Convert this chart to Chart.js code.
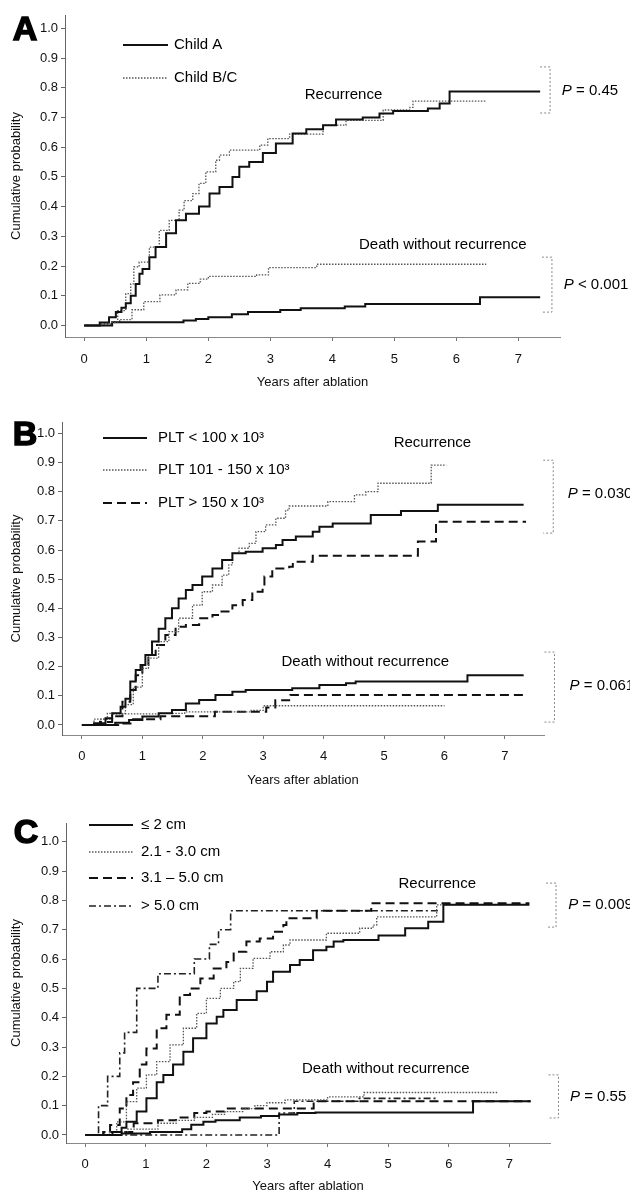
<!DOCTYPE html>
<html>
<head>
<meta charset="utf-8">
<script src="https://cdn.jsdelivr.net/npm/chart.js@4.4.1/dist/chart.umd.min.js"></script>
<style>
  body { margin: 0; background: #fff; }
  .panel { position: absolute; left: 0; }
</style>
</head>
<body>
<canvas id="chartA" class="panel" width="630" height="395" style="top:0"></canvas>
<canvas id="chartB" class="panel" width="630" height="395" style="top:395px"></canvas>
<canvas id="chartC" class="panel" width="630" height="404" style="top:790px"></canvas>
<script>
const FONT = '"Liberation Sans", Arial, sans-serif';

const xTickLabels = ['0', '1', '2', '3', '4', '5', '6', '7'];
const yTickLabels = ['0.0', '0.1', '0.2', '0.3', '0.4', '0.5', '0.6', '0.7', '0.8', '0.9', '1.0'];

// Panel A - Child-Pugh class
const childLabels = ['Child A', 'Child B/C'];
const aRecA_t = [0, 0.25, 0.4, 0.51, 0.6, 0.67, 0.75, 0.83, 0.89, 0.94, 1.05, 1.15, 1.32, 1.48, 1.64, 1.85, 2.02, 2.18, 2.39, 2.5, 2.66, 2.88, 3.09, 3.36, 3.58, 3.85, 4.06, 4.49, 4.76, 4.98, 5.54, 5.73, 5.89, 7.35];
const aRecA_v = [0, 0.01, 0.028, 0.045, 0.06, 0.075, 0.1, 0.14, 0.174, 0.19, 0.23, 0.264, 0.31, 0.354, 0.376, 0.4, 0.444, 0.466, 0.5, 0.534, 0.55, 0.58, 0.612, 0.646, 0.66, 0.674, 0.693, 0.7, 0.713, 0.722, 0.73, 0.747, 0.787, 0.787];
const aRecBC_t = [0, 0.25, 0.4, 0.54, 0.67, 0.75, 0.8, 0.885, 1.05, 1.21, 1.37, 1.53, 1.61, 1.75, 1.85, 1.96, 2.12, 2.18, 2.34, 2.83, 2.96, 3.31, 3.85, 4.22, 4.82, 5.25, 5.3, 6.48];
const aRecBC_v = [0, 0.005, 0.01, 0.05, 0.107, 0.14, 0.197, 0.213, 0.264, 0.32, 0.354, 0.388, 0.42, 0.444, 0.478, 0.517, 0.556, 0.573, 0.59, 0.607, 0.629, 0.644, 0.674, 0.69, 0.725, 0.734, 0.755, 0.755];
const aDeathA_t = [0, 0.45, 1.6, 1.8, 2.0, 2.38, 2.64, 3.16, 3.49, 4.2, 4.53, 6.38, 7.35];
const aDeathA_v = [0, 0.011, 0.017, 0.022, 0.028, 0.038, 0.045, 0.052, 0.058, 0.064, 0.072, 0.095, 0.095];
const aDeathBC_t = [0, 0.3, 0.45, 0.57, 0.77, 0.96, 1.22, 1.48, 1.67, 1.87, 2.0, 2.78, 2.97, 3.75, 6.48];
const aDeathBC_v = [0, 0.005, 0.012, 0.02, 0.053, 0.08, 0.103, 0.12, 0.142, 0.156, 0.165, 0.17, 0.195, 0.206, 0.206];

// Panel B - platelet count
const pltLabels = ['PLT < 100 x 10³', 'PLT 101 - 150 x 10³', 'PLT > 150 x 10³'];
const bRecLow_t = [0, 0.2, 0.39, 0.5, 0.64, 0.72, 0.8, 0.89, 0.97, 1.05, 1.16, 1.27, 1.38, 1.49, 1.6, 1.72, 1.83, 1.99, 2.16, 2.32, 2.49, 2.71, 2.99, 3.21, 3.32, 3.54, 3.82, 3.93, 4.15, 4.78, 5.28, 5.89, 7.31];
const bRecLow_v = [0, 0.006, 0.023, 0.04, 0.063, 0.09, 0.149, 0.189, 0.206, 0.24, 0.286, 0.33, 0.366, 0.4, 0.434, 0.463, 0.48, 0.509, 0.537, 0.566, 0.589, 0.594, 0.606, 0.617, 0.634, 0.646, 0.663, 0.68, 0.691, 0.72, 0.734, 0.755, 0.755];
const bRecMid_t = [0, 0.2, 0.42, 0.72, 0.85, 1.0, 1.1, 1.27, 1.44, 1.6, 1.83, 1.99, 2.16, 2.32, 2.43, 2.49, 2.6, 2.77, 2.88, 3.04, 3.21, 3.37, 3.43, 4.07, 4.51, 4.7, 4.9, 5.78, 6.03];
const bRecMid_v = [0, 0.02, 0.04, 0.07, 0.13, 0.194, 0.229, 0.286, 0.32, 0.366, 0.411, 0.457, 0.48, 0.514, 0.549, 0.589, 0.606, 0.623, 0.663, 0.686, 0.709, 0.737, 0.751, 0.766, 0.789, 0.8, 0.829, 0.891, 0.891];
const bRecHigh_t = [0, 0.3, 0.5, 0.67, 0.8, 0.89, 1.0, 1.1, 1.22, 1.38, 1.55, 1.72, 1.94, 2.16, 2.27, 2.49, 2.66, 2.82, 2.99, 3.02, 3.15, 3.43, 3.49, 3.82, 5.56, 5.86, 7.35];
const bRecHigh_v = [0, 0.01, 0.03, 0.08, 0.12, 0.171, 0.206, 0.24, 0.274, 0.309, 0.337, 0.343, 0.366, 0.377, 0.389, 0.411, 0.429, 0.457, 0.469, 0.509, 0.537, 0.543, 0.56, 0.58, 0.629, 0.697, 0.697];
const bDeathLow_t = [0, 0.55, 0.78, 1.0, 1.27, 1.49, 1.72, 1.94, 2.21, 2.49, 2.71, 3.48, 3.93, 4.37, 4.53, 6.38, 7.31];
const bDeathLow_v = [0, 0.008, 0.017, 0.029, 0.04, 0.051, 0.074, 0.086, 0.103, 0.114, 0.12, 0.126, 0.137, 0.143, 0.149, 0.171, 0.171];
const bDeathMid_t = [0, 0.3, 0.5, 1.3, 1.7, 2.8, 3.0, 6.0];
const bDeathMid_v = [0, 0.02, 0.038, 0.04, 0.045, 0.05, 0.066, 0.066];
const bDeathHigh_t = [0, 0.6, 0.82, 1.3, 2.2, 3.05, 3.2, 3.45, 7.35];
const bDeathHigh_v = [0, 0.005, 0.02, 0.03, 0.045, 0.06, 0.085, 0.103, 0.103];

// Panel C - tumour size
const sizeLabels = ['≤ 2 cm', '2.1 - 3.0 cm', '3.1 – 5.0 cm', '> 5.0 cm'];
const cRecS1_t = [0, 0.45, 0.6, 0.68, 0.85, 1.01, 1.18, 1.29, 1.45, 1.62, 1.78, 2.0, 2.17, 2.28, 2.5, 2.83, 3.0, 3.1, 3.38, 3.54, 3.76, 3.98, 4.1, 4.26, 4.84, 5.28, 5.66, 5.91, 7.33];
const cRecS1_v = [0, 0.01, 0.025, 0.045, 0.08, 0.125, 0.18, 0.205, 0.24, 0.284, 0.33, 0.38, 0.403, 0.426, 0.46, 0.49, 0.523, 0.557, 0.58, 0.597, 0.63, 0.642, 0.66, 0.665, 0.68, 0.705, 0.727, 0.785, 0.785];
const cRecS2_t = [0, 0.4, 0.52, 0.68, 0.85, 1.01, 1.18, 1.4, 1.62, 1.84, 2.0, 2.23, 2.45, 2.56, 2.77, 3.05, 3.27, 3.38, 3.98, 4.53, 4.75, 4.81, 5.8, 6.9];
const cRecS2_v = [0, 0.01, 0.045, 0.114, 0.16, 0.205, 0.25, 0.307, 0.364, 0.415, 0.466, 0.5, 0.523, 0.568, 0.602, 0.625, 0.648, 0.665, 0.688, 0.705, 0.716, 0.744, 0.785, 0.785];
const cRecS3_t = [0, 0.3, 0.41, 0.57, 0.68, 0.79, 0.9, 1.01, 1.18, 1.34, 1.56, 1.73, 1.9, 2.12, 2.33, 2.45, 2.66, 2.88, 3.1, 3.27, 3.32, 3.82, 4.72, 7.33];
const cRecS3_v = [0, 0.01, 0.034, 0.09, 0.136, 0.18, 0.24, 0.295, 0.364, 0.41, 0.477, 0.5, 0.534, 0.568, 0.59, 0.625, 0.66, 0.67, 0.693, 0.716, 0.739, 0.765, 0.79, 0.79];
const cRecS4_t = [0, 0.22, 0.37, 0.57, 0.65, 0.85, 1.2, 1.8, 2.05, 2.2, 2.4, 5.85];
const cRecS4_v = [0, 0.1, 0.2, 0.28, 0.35, 0.5, 0.55, 0.6, 0.65, 0.7, 0.765, 0.765];
const cDeathS1_t = [0, 0.6, 1.07, 1.6, 1.75, 1.95, 2.15, 2.55, 2.9, 3.2, 3.5, 3.8, 6.4, 7.35];
const cDeathS1_v = [0, 0.005, 0.01, 0.02, 0.035, 0.045, 0.05, 0.06, 0.065, 0.07, 0.075, 0.077, 0.115, 0.115];
const cDeathS2_t = [0, 0.4, 0.7, 1.2, 1.5, 1.8, 2.1, 2.3, 2.6, 2.8, 3.0, 3.3, 4.0, 4.6, 6.8];
const cDeathS2_v = [0, 0.01, 0.02, 0.04, 0.05, 0.06, 0.07, 0.08, 0.09, 0.1, 0.11, 0.12, 0.13, 0.145, 0.145];
const cDeathS3_t = [0, 0.3, 0.8, 1.2, 1.5, 1.8, 2.0, 2.3, 3.77, 7.35];
const cDeathS3_v = [0, 0.01, 0.04, 0.05, 0.06, 0.075, 0.08, 0.09, 0.115, 0.115];
const cDeathS4_t = [0, 3.2, 3.45, 4.5, 5.8];
const cDeathS4_v = [0, 0.075, 0.115, 0.125, 0.125];

const lineStyles = {
    solid:   { borderColor: '#111', borderWidth: 2,   borderDash: [] },
    dotted:  { borderColor: '#555', borderWidth: 1.3, borderDash: [1.5, 1.5] },
    dashed:  { borderColor: '#111', borderWidth: 2,   borderDash: [9, 5] },
    dashdot: { borderColor: '#222', borderWidth: 1.6, borderDash: [7, 3, 2, 3] }
};

function curve(label, t, v, style) {
    return {
        label: label,
        data: t.map((x, i) => ({ x: x, y: v[i] })),
        stepped: true,
        pointRadius: 0,
        fill: false,
        ...lineStyles[style]
    };
}

// letter, legend, curve notes, p-values and brackets
const panelDecor = {
    id: 'panelDecor',
    afterDraw(chart, args, o) {
        const ctx = chart.ctx;
        const xs = chart.scales.x, ys = chart.scales.y;
        ctx.save();
        ctx.fillStyle = '#000';
        ctx.strokeStyle = '#000';

        // big panel letter, baseline at its bottom edge
        ctx.font = 'bold 34px ' + FONT;
        ctx.textAlign = 'center';
        ctx.textBaseline = 'alphabetic';
        ctx.lineWidth = 1.5;
        ctx.fillText(o.letter, o.letterPos[0], o.letterPos[1]);
        ctx.strokeText(o.letter, o.letterPos[0], o.letterPos[1]);

        ctx.textBaseline = 'middle';
        o.legend.forEach((item, i) => {
            const y = o.legendPos.ys[i];
            const st = lineStyles[item.style];
            ctx.beginPath();
            ctx.setLineDash(st.borderDash);
            ctx.lineWidth = st.borderWidth;
            ctx.strokeStyle = st.borderColor;
            ctx.moveTo(o.legendPos.x1, y);
            ctx.lineTo(o.legendPos.x2, y);
            ctx.stroke();
            ctx.setLineDash([]);
            ctx.font = '15px ' + FONT;
            ctx.textAlign = 'left';
            ctx.fillStyle = '#000';
            ctx.fillText(item.label, o.legendPos.tx, y);
        });

        ctx.font = '15px ' + FONT;
        ctx.textAlign = 'center';
        o.notes.forEach(n => {
            ctx.fillText(n.text, xs.getPixelForValue(n.x), ys.getPixelForValue(n.y));
        });

        ctx.textAlign = 'left';
        o.pvals.forEach(p => {
            const px = xs.getPixelForValue(p.x), py = ys.getPixelForValue(p.y);
            ctx.font = 'italic 15px ' + FONT;
            ctx.fillText('P', px, py);
            const w = ctx.measureText('P').width;
            ctx.font = '15px ' + FONT;
            ctx.fillText(p.text, px + w, py);
        });

        ctx.strokeStyle = '#888';
        ctx.lineWidth = 1;
        ctx.setLineDash([2, 2]);
        o.brackets.forEach(b => {
            const bx = xs.getPixelForValue(b.x);
            const y1 = ys.getPixelForValue(b.y1), y2 = ys.getPixelForValue(b.y2);
            ctx.beginPath();
            ctx.moveTo(bx - 10, y1);
            ctx.lineTo(bx, y1);
            ctx.lineTo(bx, y2);
            ctx.lineTo(bx - 10, y2);
            ctx.stroke();
        });
        ctx.restore();
    }
};

function makePanel(id, cfg) {
    const el = document.getElementById(id);
    const font13 = { family: FONT, size: 13 };
    return new Chart(el, {
        type: 'line',
        data: { datasets: cfg.datasets },
        plugins: [panelDecor],
        options: {
            responsive: false,
            animation: false,
            events: [],
            layout: { padding: { top: cfg.top, right: el.width - cfg.right, left: 0, bottom: 0 } },
            plugins: {
                legend: { display: false },
                tooltip: { enabled: false },
                panelDecor: cfg.decor
            },
            scales: {
                x: {
                    type: 'linear',
                    min: cfg.xMin,
                    max: cfg.xMax,
                    afterBuildTicks: s => { s.ticks = xTickLabels.map(l => ({ value: Number(l) })); },
                    afterFit: s => { s.height = el.height - cfg.bottom; },
                    ticks: { callback: v => String(v), font: font13, color: '#111', padding: cfg.xTickPad, maxRotation: 0, autoSkip: false },
                    grid: { drawOnChartArea: false, drawTicks: true, tickLength: 4, color: '#777' },
                    border: { display: true, color: '#888', dash: [2, 3], width: 1 },
                    title: { display: true, text: 'Years after ablation', font: font13, color: '#111', padding: { top: 0, bottom: cfg.xTitlePad } }
                },
                y: {
                    min: cfg.yMin,
                    max: cfg.yMax,
                    afterBuildTicks: s => { s.ticks = yTickLabels.map(l => ({ value: Number(l) })); },
                    afterFit: s => { s.width = cfg.left; },
                    ticks: { callback: v => v.toFixed(1), font: font13, color: '#111', padding: 3 },
                    grid: { drawOnChartArea: false, drawTicks: true, tickLength: 4, color: '#666' },
                    border: { display: true, color: '#666', dash: [1, 1], width: 1 },
                    title: { display: true, text: 'Cumulative probability', font: font13, color: '#111', padding: { top: 9, bottom: 0 } }
                }
            }
        }
    });
}

makePanel('chartA', {
    top: 15, bottom: 337, left: 65, right: 560,
    xMin: -0.31, xMax: 7.67, yMin: -0.0387, yMax: 1.0447,
    xTickPad: 11, xTitlePad: 5,
    datasets: [
        curve(childLabels[0] + ' recurrence', aRecA_t, aRecA_v, 'solid'),
        curve(childLabels[1] + ' recurrence', aRecBC_t, aRecBC_v, 'dotted'),
        curve(childLabels[0] + ' death', aDeathA_t, aDeathA_v, 'solid'),
        curve(childLabels[1] + ' death', aDeathBC_t, aDeathBC_v, 'dotted')
    ],
    decor: {
        letter: 'A', letterPos: [25, 40],
        legend: [{ label: childLabels[0], style: 'solid' }, { label: childLabels[1], style: 'dotted' }],
        legendPos: { x1: 123, x2: 168, tx: 174, ys: [45, 78] },
        notes: [{ text: 'Recurrence', x: 4.18, y: 0.776 }, { text: 'Death without recurrence', x: 5.78, y: 0.271 }],
        pvals: [{ text: ' = 0.45', x: 7.70, y: 0.789 }, { text: ' < 0.001', x: 7.73, y: 0.136 }],
        brackets: [{ x: 7.51, y1: 0.87, y2: 0.715 }, { x: 7.54, y1: 0.23, y2: 0.045 }]
    }
});

makePanel('chartB', {
    top: 27, bottom: 340, left: 62, right: 544,
    xMin: -0.33, xMax: 7.647, yMin: -0.0343, yMax: 1.039,
    xTickPad: 10, xTitlePad: 2,
    datasets: [
        curve(pltLabels[0] + ' recurrence', bRecLow_t, bRecLow_v, 'solid'),
        curve(pltLabels[1] + ' recurrence', bRecMid_t, bRecMid_v, 'dotted'),
        curve(pltLabels[2] + ' recurrence', bRecHigh_t, bRecHigh_v, 'dashed'),
        curve(pltLabels[0] + ' death', bDeathLow_t, bDeathLow_v, 'solid'),
        curve(pltLabels[1] + ' death', bDeathMid_t, bDeathMid_v, 'dotted'),
        curve(pltLabels[2] + ' death', bDeathHigh_t, bDeathHigh_v, 'dashed')
    ],
    decor: {
        letter: 'B', letterPos: [25, 50],
        legend: [{ label: pltLabels[0], style: 'solid' }, { label: pltLabels[1], style: 'dotted' }, { label: pltLabels[2], style: 'dashed' }],
        legendPos: { x1: 103, x2: 147, tx: 158, ys: [43, 75, 108] },
        notes: [{ text: 'Recurrence', x: 5.8, y: 0.967 }, { text: 'Death without recurrence', x: 4.69, y: 0.216 }],
        pvals: [{ text: ' = 0.030', x: 8.04, y: 0.792 }, { text: ' = 0.061', x: 8.07, y: 0.134 }],
        brackets: [{ x: 7.8, y1: 0.908, y2: 0.658 }, { x: 7.82, y1: 0.25, y2: 0.01 }]
    }
});

makePanel('chartC', {
    top: 33, bottom: 353, left: 66, right: 550,
    xMin: -0.317, xMax: 7.67, yMin: -0.0273, yMax: 1.064,
    xTickPad: 10, xTitlePad: 0,
    datasets: [
        curve(sizeLabels[0] + ' recurrence', cRecS1_t, cRecS1_v, 'solid'),
        curve(sizeLabels[1] + ' recurrence', cRecS2_t, cRecS2_v, 'dotted'),
        curve(sizeLabels[2] + ' recurrence', cRecS3_t, cRecS3_v, 'dashed'),
        curve(sizeLabels[3] + ' recurrence', cRecS4_t, cRecS4_v, 'dashdot'),
        curve(sizeLabels[0] + ' death', cDeathS1_t, cDeathS1_v, 'solid'),
        curve(sizeLabels[1] + ' death', cDeathS2_t, cDeathS2_v, 'dotted'),
        curve(sizeLabels[2] + ' death', cDeathS3_t, cDeathS3_v, 'dashed'),
        curve(sizeLabels[3] + ' death', cDeathS4_t, cDeathS4_v, 'dashdot')
    ],
    decor: {
        letter: 'C', letterPos: [26, 53],
        legend: sizeLabels.map((l, i) => ({ label: l, style: ['solid', 'dotted', 'dashed', 'dashdot'][i] })),
        legendPos: { x1: 89, x2: 133, tx: 141, ys: [35, 62, 88, 116] },
        notes: [{ text: 'Recurrence', x: 5.81, y: 0.856 }, { text: 'Death without recurrence', x: 4.96, y: 0.225 }],
        pvals: [{ text: ' = 0.009', x: 7.97, y: 0.784 }, { text: ' = 0.55', x: 8.0, y: 0.13 }],
        brackets: [{ x: 7.77, y1: 0.859, y2: 0.709 }, { x: 7.81, y1: 0.205, y2: 0.058 }]
    }
});
</script>
</body>
</html>
